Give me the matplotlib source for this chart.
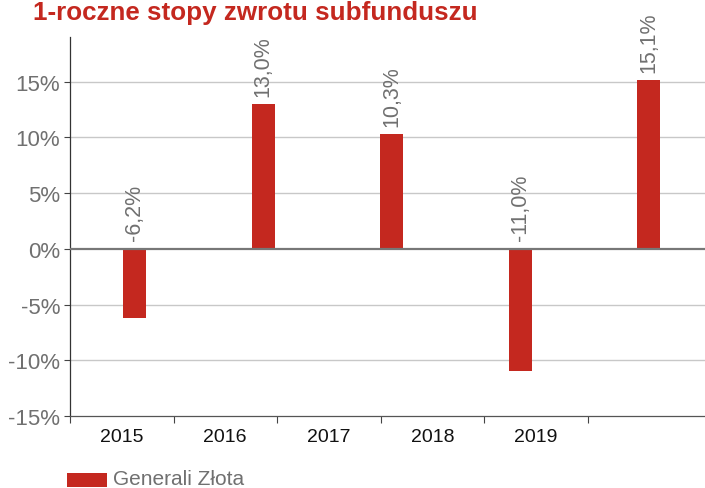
import matplotlib
matplotlib.use("Agg")
import matplotlib.pyplot as plt
from matplotlib.patches import Rectangle

plt.rcParams['font.family'] = ['Liberation Sans', 'DejaVu Sans']

# data
years = ['2015', '2016', '2017', '2018', '2019']
returns = [-6.2, 13.0, 10.3, -11.0, 15.1]
value_labels = ['-6,2%', '13,0%', '10,3%', '-11,0%', '15,1%']
yticks = [-15, -10, -5, 0, 5, 10, 15]
ytick_labels = ['-15%', '-10%', '-5%', '0%', '5%', '10%', '15%']
series_name = 'Generali Złota'
title = '1-roczne stopy zwrotu subfunduszu'

red = '#C4281F'
grey = '#707070'

fig = plt.figure(figsize=(7.05, 4.89), dpi=100)
ax = fig.add_axes([70 / 705, 72 / 489, 635 / 705, 379 / 489])

# bars sit on a wider spacing than the category labels (as in the original)
px_per_unit = 128.5
x = list(range(len(returns)))
ax.bar(x, returns, width=23 / px_per_unit, color=red, zorder=3)

left = (70 - 134.5) / px_per_unit
right = (705 - 134.5) / px_per_unit
ax.set_xlim(left, right)
ax.set_ylim(-15, 19)

# category boundaries / label centres for the x axis
step = 103.5 / px_per_unit
bounds = [left + step * k for k in range(len(years) + 1)]
centres = [left + step * (k + 0.5) for k in range(len(years))]
ax.set_xticks(bounds)
ax.set_xticklabels([''] * len(bounds))
ax.set_xticks(centres, minor=True)
ax.set_xticklabels(years, minor=True, fontsize=14, color='#111111')
ax.tick_params(axis='x', which='major', length=5, width=0.8, color='#444444', direction='out')
ax.tick_params(axis='x', which='minor', length=0, pad=9)

ax.set_yticks(yticks)
ax.set_yticklabels(ytick_labels, fontsize=16, color=grey)
ax.tick_params(axis='y', length=4, width=0.8, color='#444444', pad=3)

for y in yticks:
    if y == 0:
        ax.axhline(0, color='#777777', lw=1.6, zorder=4)
    elif y != -15:
        ax.axhline(y, color='#c8c8c8', lw=1.0, zorder=1)

for s in ['top', 'right']:
    ax.spines[s].set_visible(False)
ax.spines['left'].set_color('#333333')
ax.spines['bottom'].set_color('#555555')
ax.spines['left'].set_linewidth(0.9)
ax.spines['bottom'].set_linewidth(0.9)

for xi, v, lab in zip(x, returns, value_labels):
    base = max(v, 0)
    ax.annotate(lab, (xi, base), xytext=(0, 6), textcoords='offset points',
                rotation=90, ha='center', va='bottom', fontsize=15.5, color=grey)

fig.text(33 / 705, 1 - 13 / 489, title, fontsize=18.7, fontweight='bold',
         color=red, ha='left', va='center')

fig.patches.append(Rectangle((67 / 705, 1 - 488 / 489), 40 / 705, 14 / 489,
                             transform=fig.transFigure, color=red, lw=0))
fig.text(113 / 705, 1 - 480 / 489, series_name, fontsize=15, color=grey,
         ha='left', va='center')

fig.savefig('out.png', dpi=100)
